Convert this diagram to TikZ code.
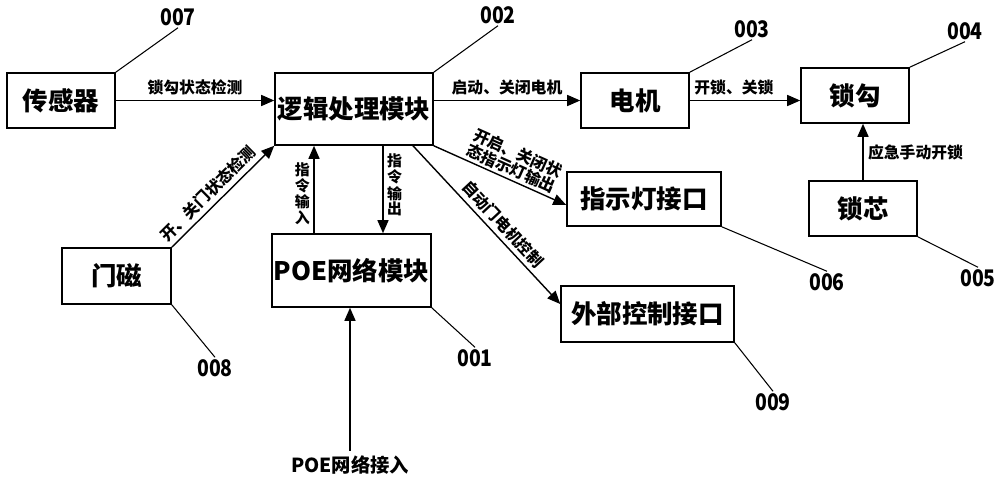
\documentclass[tikz,border=0pt]{standalone}
\usepackage{fontspec}
\usetikzlibrary{arrows.meta,calc}
\newfontfamily\cjk{Noto Sans CJK SC}
\newfontfamily\numfont{Noto Sans CJK SC}[FakeStretch=0.85]

\begin{document}
\begin{tikzpicture}[x=0.02cm,y=-0.02cm,
    blk/.style={draw,line width=0.9pt,inner sep=0pt,minimum height=1.1cm,
      font=\cjk\bfseries\fontsize{14.5}{16}\selectfont},
    arr/.style={line width=0.8pt,-{Triangle[length=0.26cm,width=0.22cm]}},
    lbl/.style={font=\cjk\bfseries\fontsize{9}{9.5}\selectfont,inner sep=2.5pt},
    vlbl/.style={font=\cjk\bfseries\fontsize{8.5}{7.8}\selectfont,inner sep=2pt,align=center},
    num/.style={font=\numfont\bfseries\fontsize{13}{14}\selectfont,inner sep=1pt},
    lead/.style={line width=0.6pt}]
  \useasboundingbox (0,0) rectangle (1000,479);
  % Blocks
  \node[blk,minimum width=2.16cm] (sensor) at (61,100.5) {传感器};
  \node[blk,minimum width=3.16cm,minimum height=1.44cm] (logic) at (354,109) {逻辑处理模块};
  \node[blk,minimum width=2.16cm] (motor) at (635,100.5) {电机};
  \node[blk,minimum width=2.16cm] (hook) at (855,95.5) {锁勾};
  \node[blk,minimum width=2.16cm] (core) at (863,208.5) {锁芯};
  \node[blk,minimum width=3.08cm,minimum height=1.08cm] (light) at (644,199) {指示灯接口};
  \node[blk,minimum width=3.46cm,minimum height=1.12cm] (ext) at (647.5,314) {外部控制接口};
  \node[blk,minimum width=2.18cm,minimum height=1.12cm] (door) at (116.5,276) {门磁};
  \node[blk,minimum width=3.18cm,minimum height=1.46cm] (poe) at (351.5,270.5) {POE网络模块};
  \node[lbl,font=\cjk\bfseries\fontsize{11}{12}\selectfont] (poein) at (350,465) {POE网络接入};
  % Signals
  \draw[arr] (sensor.east) -- (sensor.east -| logic.west) node[lbl,midway,above] {锁勾状态检测};
  \draw[arr] (logic.east |- motor.west) -- (motor.west) node[lbl,midway,above] {启动、关闭电机};
  \draw[arr] (motor.east) -- (motor.east -| hook.west) node[lbl,pos=0.4,above] {开锁、关锁};
  \draw[arr] (core.north) -- (core.north |- hook.south) node[lbl,midway,right] {应急手动开锁};
  \draw[arr] (door.north east) -- (logic.south west) node[lbl,pos=0.44,above,sloped] {开、关门状态检测};
  \draw[arr] ([xshift=-0.75cm]poe.north) -- ([xshift=-0.75cm]poe.north |- logic.south)
    node[vlbl,pos=0.45,left] {指\\令\\输\\入};
  \draw[arr] ([xshift=0.58cm]logic.south) -- ([xshift=0.58cm]logic.south |- poe.north)
    node[vlbl,pos=0.45,right] {指\\令\\输\\出};
  \draw[arr] (logic.south east) -- ([yshift=-0.12cm]light.west)
    node[lbl,pos=0.55,above,sloped,align=center,inner sep=1.5pt] {开启、关闭状\\态指示灯输出};
  \draw[arr] ([xshift=1.18cm]logic.south) -- ([yshift=0.2cm]ext.west)
    node[lbl,pos=0.55,above,sloped] {自动门电机控制};
  \draw[arr] (poein.north) -- (poein.north |- poe.south);
  % Reference numbers
  \node[num] (n007) at (178,17) {007};
  \node[num] (n002) at (498,15) {002};
  \node[num] (n003) at (752,29) {003};
  \node[num] (n004) at (965,31) {004};
  \node[num] (n005) at (978,278) {005};
  \node[num] (n006) at (827,282) {006};
  \node[num] (n009) at (773,402) {009};
  \node[num] (n008) at (215,368) {008};
  \node[num] (n001) at (475,358) {001};
  \draw[lead] (sensor.north east) -- (n007.south);
  \draw[lead] (logic.north east) -- (n002.south);
  \draw[lead] (motor.north east) -- (n003.south);
  \draw[lead] (hook.north east) -- (n004.south);
  \draw[lead] (core.south east) -- (n005.north);
  \draw[lead] (light.south east) -- (n006.north);
  \draw[lead] (ext.south east) -- (n009.north);
  \draw[lead] (door.south east) -- (n008.north);
  \draw[lead] (poe.south east) -- (n001.north);
\end{tikzpicture}
\end{document}
